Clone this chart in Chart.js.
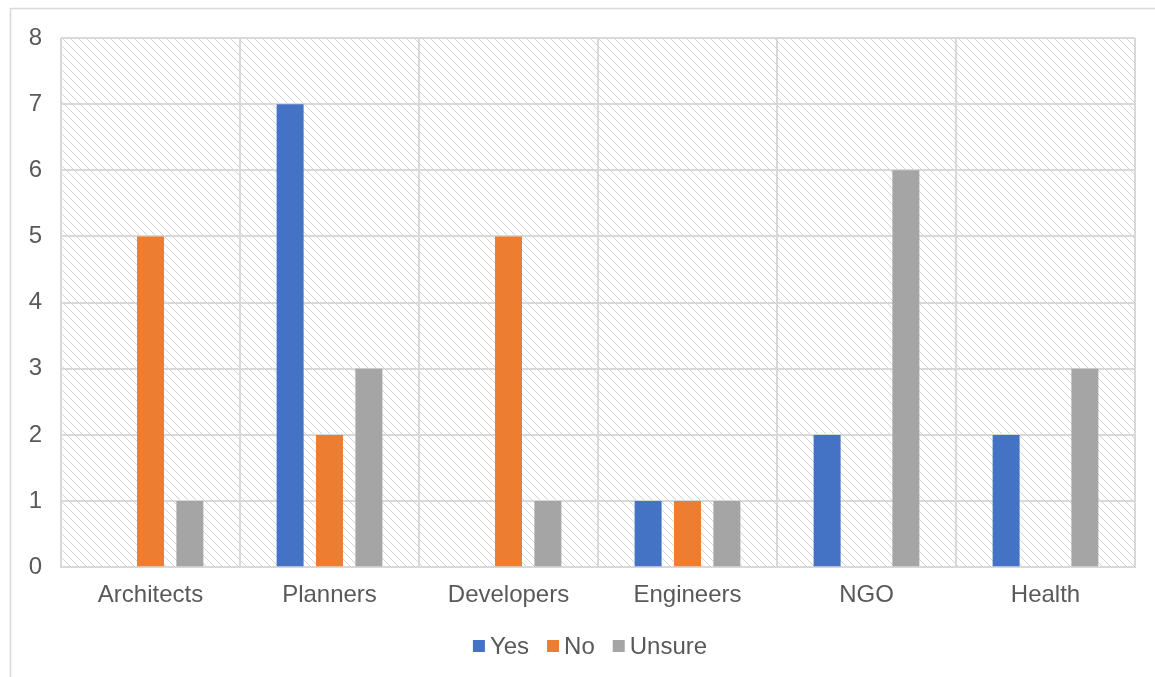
<!DOCTYPE html>
<html>
<head>
<meta charset="utf-8">
<script src="https://cdn.jsdelivr.net/npm/chart.js@4"></script>
<style>
  html, body { margin: 0; padding: 0; background: #fff; }
  #wrap { width: 1155px; height: 677px; }
</style>
</head>
<body>
<div id="wrap"><canvas id="chart" width="1155" height="677"></canvas></div>
<script>
const categories = ['Architects', 'Planners', 'Developers', 'Engineers', 'NGO', 'Health'];
const yesValues = [0, 7, 0, 1, 2, 2];
const noValues = [5, 2, 5, 1, 0, 0];
const unsureValues = [1, 3, 1, 1, 6, 3];
const yTicks = [0, 1, 2, 3, 4, 5, 6, 7, 8];

const FONT = "'Liberation Sans', Arial, sans-serif";
Chart.defaults.font.family = FONT;
Chart.defaults.font.size = 24;
Chart.defaults.color = '#595959';

// diagonal hatch used as the plot background
function makeHatch() {
    const c = document.createElement('canvas');
    c.width = 8; c.height = 8;
    const g = c.getContext('2d');
    g.strokeStyle = '#d4d4d4';
    g.lineWidth = 1;
    g.beginPath();
    g.moveTo(-1, -1); g.lineTo(9, 9);
    g.moveTo(-1, 7); g.lineTo(1, 9);
    g.moveTo(7, -1); g.lineTo(9, 1);
    g.stroke();
    return g.createPattern(c, 'repeat');
}

const backdrop = {
    id: 'backdrop',
    beforeDraw(chart) {
        const ctx = chart.ctx, a = chart.chartArea;
        ctx.save();
        ctx.fillStyle = '#fff';
        ctx.fillRect(0, 0, chart.width, chart.height);
        // outer frame
        ctx.strokeStyle = '#d9d9d9';
        ctx.lineWidth = 1.5;
        ctx.beginPath();
        ctx.moveTo(10.5, chart.height + 2);
        ctx.lineTo(10.5, 8.5);
        ctx.lineTo(chart.width + 2, 8.5);
        ctx.stroke();
        ctx.fillStyle = makeHatch();
        ctx.fillRect(a.left, a.top, a.right - a.left, a.bottom - a.top);
        ctx.restore();
    }
};

// office-style legend: small square, tight gap to the label
const bottomLegend = {
    id: 'bottomLegend',
    afterDraw(chart) {
        const ctx = chart.ctx;
        const sets = chart.data.datasets;
        const box = 12, gap = 5, spacing = 18, y = 646, center = 590;
        ctx.save();
        ctx.font = '24px ' + FONT;
        ctx.textBaseline = 'middle';
        const widths = sets.map(s => ctx.measureText(s.label).width);
        let total = spacing * (sets.length - 1);
        widths.forEach(w => { total += box + gap + w; });
        let x = center - total / 2;
        sets.forEach((s, i) => {
            ctx.fillStyle = s.backgroundColor;
            ctx.fillRect(x, y - box / 2, box, box);
            ctx.fillStyle = '#595959';
            ctx.fillText(s.label, x + box + gap, y + 1);
            x += box + gap + widths[i] + spacing;
        });
        ctx.restore();
    }
};

new Chart(document.getElementById('chart'), {
    type: 'bar',
    data: {
        labels: categories,
        datasets: [
            { label: 'Yes', data: yesValues, backgroundColor: '#4472C4' },
            { label: 'No', data: noValues, backgroundColor: '#ED7D31' },
            { label: 'Unsure', data: unsureValues, backgroundColor: '#A5A5A5' }
        ]
    },
    options: {
        responsive: false,
        animation: false,
        categoryPercentage: 0.66,
        barPercentage: 0.685,
        layout: { padding: { left: 20, right: 20, top: 38, bottom: 53 } },
        plugins: {
            legend: { display: false },
            tooltip: { enabled: false }
        },
        scales: {
            x: {
                grid: { color: '#d9d9d9', lineWidth: 2, drawTicks: false, offset: true },
                border: { color: '#d9d9d9', width: 2 },
                ticks: { padding: 14 }
            },
            y: {
                min: 0, max: 8,
                afterFit(s) { s.width = 41; },
                afterBuildTicks(s) { s.ticks = yTicks.map(v => ({ value: v })); },
                grid: { color: '#d9d9d9', lineWidth: 2, drawTicks: false },
                border: { display: false },
                ticks: { padding: 19 }
            }
        }
    },
    plugins: [backdrop, bottomLegend]
});
</script>
</body>
</html>
